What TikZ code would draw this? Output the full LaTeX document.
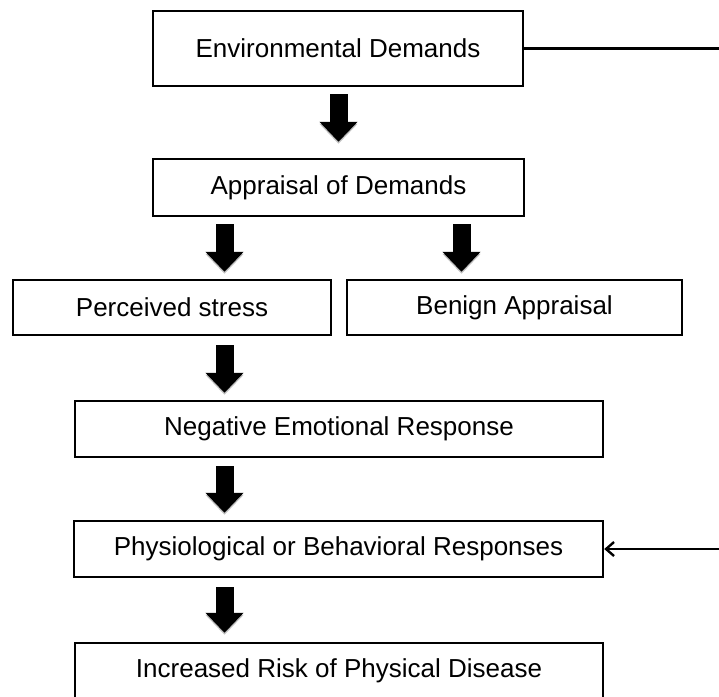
\documentclass[tikz,border=0pt]{standalone}
\usepackage{fontspec}
\setmainfont{Liberation Sans}
\usetikzlibrary{arrows.meta}
\tikzset{
  box/.style={draw=black, line width=2.4pt, rectangle, inner sep=0pt,
    font=\fontsize{26}{30}\selectfont, text=black},
  fat/.style={line width=18pt, draw=black,
    -{Triangle[length=20pt,width=37pt]},
    preaction={draw=black!25, transform canvas={yshift=-2pt}}},
  thin/.style={line width=2.4pt, draw=black},
}
\begin{document}
\begin{tikzpicture}[x=1pt,y=-1pt]
\useasboundingbox (0,0) rectangle (719,696);
\fill[white] (0,0) rectangle (719,696);
\node[box, minimum width=370pt, minimum height=75pt] (env) at (338,48.5) {Environmental Demands};
\node[box, minimum width=371pt, minimum height=57pt] (app) at (338.5,187.5) {Appraisal of Demands};
\node[box, minimum width=318pt, minimum height=55pt] (ps) at (172,307.5) {Perceived stress};
\node[box, minimum width=335pt, minimum height=55pt] (ben) at (514.5,307.5) {Benign Appraisal};
\node[box, minimum width=528pt, minimum height=56pt] (neg) at (339,429) {Negative Emotional Response};
\node[box, minimum width=529pt, minimum height=56pt] (phys) at (338.5,549) {Physiological or Behavioral Responses};
\node[box, minimum width=528pt, minimum height=56pt] (inc) at (339,671) {Increased Risk of Physical Disease};
\coordinate (colA) at (224.5,0);
\coordinate (colB) at (338.5,0);
\coordinate (colC) at (461.5,0);
\coordinate (r1) at (719,48.5);
\coordinate (r2) at (719,549);
\draw[fat, shorten <=7pt, shorten >=16pt] (env.south -| colB) -- (app.north -| colB);
\draw[fat, shorten <=7pt, shorten >=7pt] (app.south -| colA) -- (ps.north -| colA);
\draw[fat, shorten <=7pt, shorten >=7pt] (app.south -| colC) -- (ben.north -| colC);
\draw[fat, shorten <=9pt, shorten >=7pt] (ps.south -| colA) -- (neg.north -| colA);
\draw[fat, shorten <=8pt, shorten >=7pt] (neg.south -| colA) -- (phys.north -| colA);
\draw[fat, shorten <=9pt, shorten >=9pt] (phys.south -| colA) -- (inc.north -| colA);
\draw[thin] (env.east) -- (r1);
\draw[thin, -{Straight Barb[length=8pt,width=14pt]}] (r2) -- (phys.east);
\end{tikzpicture}
\end{document}
